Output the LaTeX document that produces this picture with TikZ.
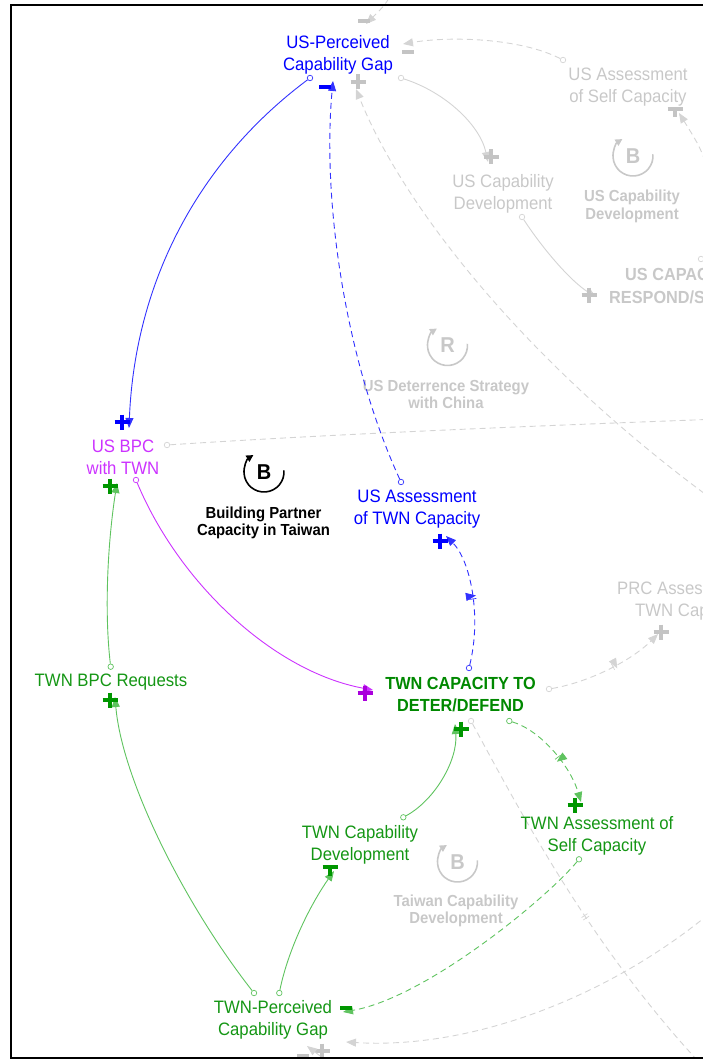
\documentclass[tikz,border=0pt]{standalone}
\usepackage{fontspec}
\setmainfont{Liberation Sans}[FakeStretch=0.93]
\usetikzlibrary{arrows.meta,decorations.markings}

\definecolor{cblue}{RGB}{0,0,255}
\definecolor{cblueline}{RGB}{50,50,255}
\definecolor{cmag}{RGB}{204,51,255}
\definecolor{cmagsign}{RGB}{170,0,220}
\definecolor{cgreen}{RGB}{20,150,20}
\definecolor{cgreenbold}{RGB}{0,136,0}
\definecolor{cgreenline}{RGB}{95,195,95}
\definecolor{cgreensign}{RGB}{0,150,0}
\definecolor{cgraytext}{RGB}{200,200,200}
\definecolor{cgrayline}{RGB}{212,212,212}
\definecolor{cgraysign}{RGB}{196,196,196}

\tikzset{
  varlabel/.style={align=center, inner sep=0pt, font=\fontsize{18}{21.5}\selectfont},
  stocklabel/.style={align=center, inner sep=0pt, font=\bfseries\fontsize{17.5}{22}\selectfont},
  looplabel/.style={align=center, inner sep=0pt, font=\bfseries\fontsize{16}{17.5}\selectfont},
  loopletter/.style={inner sep=0pt, font=\bfseries\fontsize{21.5}{24}\selectfont},
  loopring/.style={line width=1.6pt, -{Triangle[length=7pt,width=7pt]}},
  tail/.style={circle, draw=#1, fill=white, inner sep=0pt, minimum size=5.5pt, line width=0.7pt},
  link/.style={line width=0.9pt, -{Triangle[length=10pt,width=8pt]}},
  plainlink/.style={line width=0.9pt},
  dashedlink/.style={link, dash pattern=on 6pt off 4pt},
  dashedplain/.style={plainlink, dash pattern=on 6pt off 4pt},
  delay/.style={postaction={decorate, decoration={markings,
      mark=at position #1 with {\draw[solid, line width=0.7pt]
        (-1.5,-3.5) -- (-1.5,3.5) (1.5,-3.5) -- (1.5,3.5);}}}},
  signstroke/.style={line width=3.6pt, line cap=butt},
}

% polarity marks: colour, centre
\newcommand\signplus[2]{\draw[signstroke,#1] (#2) ++(-7.5,0) -- ++(15,0) (#2) ++(0,-7.5) -- ++(0,15);}
\newcommand\signtee[2]{\draw[signstroke,#1] (#2) ++(-7.5,0) -- ++(15,0) (#2) -- ++(0,8.5);}
\newcommand\signminus[2]{\draw[signstroke,#1] (#2) ++(-6,0) -- ++(12,0);}

\begin{document}
\begin{tikzpicture}[x=1pt,y=-1pt]
\useasboundingbox (0,0) rectangle (703,1059);
\begin{scope}
\clip (0,0) rectangle (703,1059);

% ---------- faded part of the model ----------
\node[varlabel, text=cgraytext] (usself) at (628,87) {US Assessment\\of Self Capacity};
\node[varlabel, text=cgraytext] (uscapdev) at (503,194) {US Capability\\Development};
\node[stocklabel, text=cgraytext, anchor=base west] (uscapac) at (625,280) {US CAPAC};
\node[stocklabel, text=cgraytext, anchor=base west] (usrespond) at (609,303) {RESPOND/S};
\node[varlabel, text=cgraytext, anchor=base west] (prcassess) at (617,594) {PRC Assess};
\node[varlabel, text=cgraytext, anchor=base west] (prctwn) at (635,616.5) {TWN Cap};

% loop markers
\node[loopletter, text=cgraytext] (loopusB) at (633,156) {B};
\draw[loopring, cgraytext] (loopusB.center) ++(-5:20) arc[start angle=-5, end angle=238, radius=20];
\node[looplabel, text=cgraytext] (loopusBlabel) at (632,206.5) {US Capability\\Development};

\node[loopletter, text=cgraytext] (loopR) at (447.5,345.5) {R};
\draw[loopring, cgraytext] (loopR.center) ++(-5:20) arc[start angle=-5, end angle=238, radius=20];
\node[looplabel, text=cgraytext] (loopRlabel) at (446,394.5) {US Deterrence Strategy\\with China};

\node[loopletter, text=cgraytext] (looptwB) at (457.5,862) {B};
\draw[loopring, cgraytext] (looptwB.center) ++(-5:20) arc[start angle=-5, end angle=238, radius=20];
\node[looplabel, text=cgraytext] (looptwBlabel) at (456,911) {Taiwan Capability\\Development};

% faded connectors
\coordinate (kin) at (394,-10);
\coordinate (kh) at (366,24);
\draw[dashedlink, cgrayline] (kin) .. controls (385,5) .. (kh);
\signminus{cgraysign}{364,21}

\node[tail=cgrayline] (tL) at (563,60) {};
\coordinate (hL) at (403,44);
\draw[dashedlink, cgrayline] (tL) .. controls (520,38) and (450,36) .. (hL);
\signminus{cgraysign}{408,52}

\node[tail=cgrayline] (tM) at (401,78) {};
\coordinate (hM) at (488,162);
\draw[link, cgrayline] (tM) .. controls (445,92) and (480,125) .. (hM);
\signplus{cgraysign}{491,157}

\coordinate (nin) at (720,505);
\coordinate (hN) at (356,89);
\draw[dashedlink, cgrayline] (nin) .. controls (520,360) and (400,200) .. (hN);
\signplus{cgraysign}{358,82}

\node[tail=cgrayline] (tO) at (167,445) {};
\coordinate (oout) at (720,419);
\draw[dashedplain, cgrayline] (tO) .. controls (350,433) and (560,425) .. (oout);

\node[tail=cgrayline] (tM2) at (522,217) {};
\coordinate (hM2) at (596,297);
\draw[link, cgrayline] (tM2) .. controls (545,252) and (572,282) .. (hM2);
\signplus{cgraysign}{589,295}

\coordinate (pin) at (714,190);
\coordinate (hP) at (679,113);
\draw[dashedlink, cgrayline] (pin) .. controls (702,150) .. (hP);
\signtee{cgraysign}{675,109}

\node[tail=cgrayline] (tU) at (701,259) {};

\node[tail=cgrayline] (tQ) at (549,689) {};
\coordinate (hQ) at (658,634);
\draw[dashedlink, cgrayline, delay=0.55] (tQ) .. controls (590,682) and (632,660) .. (hQ);
\signplus{cgraysign}{661,632}

\node[tail=cgrayline] (tR) at (471,721) {};
\coordinate (rout) at (714,1078);
\draw[dashedplain, cgrayline, delay=0.52] (tR) .. controls (530,830) and (600,960) .. (rout);

\coordinate (sin) at (716,908);
\coordinate (hS) at (346,1042);
\draw[dashedlink, cgrayline] (sin) .. controls (620,990) and (480,1050) .. (hS);
\signplus{cgraysign}{322,1051}

\coordinate (bin) at (336,1068);
\coordinate (hB2) at (307,1046);
\draw[dashedlink, cgrayline] (bin) -- (hB2);
\signminus{cgraysign}{303,1056}

% ---------- highlighted loop ----------
\node[varlabel, text=cblue] (usgap) at (338,55) {US-Perceived\\Capability Gap};
\node[varlabel, text=cmag] (usbpc) at (123,457.5) {US BPC\\with TWN};
\node[varlabel, text=cblue] (usassess) at (417,509) {US Assessment\\of TWN Capacity};
\node[stocklabel, text=cgreenbold] (twncap) at (460.5,695) {TWN CAPACITY TO\\DETER/DEFEND};
\node[varlabel, text=cgreen] (twnreq) at (111,682) {TWN BPC Requests};
\node[varlabel, text=cgreen] (twncapdev) at (360,845) {TWN Capability\\Development};
\node[varlabel, text=cgreen] (twnself) at (597,836) {TWN Assessment of\\Self Capacity};
\node[varlabel, text=cgreen] (twngap) at (273,1020) {TWN-Perceived\\Capability Gap};

\node[loopletter, text=black] (loopbpc) at (264,472) {B};
\draw[loopring, black] (loopbpc.center) ++(-5:20) arc[start angle=-5, end angle=238, radius=20];
\node[looplabel, text=black] (loopbpclabel) at (263.5,523) {Building Partner\\Capacity in Taiwan};

% US-Perceived Capability Gap -> US BPC with TWN
\node[tail=cblueline] (tA) at (310,78) {};
\coordinate (hA) at (129,428);
\draw[link, cblueline] (tA) .. controls (200,160) and (135,280) .. (hA);
\signplus{cblue}{122,422}

% US Assessment of TWN Capacity -> US-Perceived Capability Gap
\node[tail=cblueline] (tB) at (401,482) {};
\coordinate (hB) at (333,81);
\draw[dashedlink, cblueline] (tB) .. controls (345,360) and (322,200) .. (hB);
\signminus{cblue}{325,87}

% TWN capacity -> US Assessment of TWN Capacity
\node[tail=cblueline] (tC) at (469,668) {};
\coordinate (hC) at (446,536);
\draw[dashedlink, cblueline, delay=0.5] (tC) .. controls (482,615) and (470,560) .. (hC);
\signplus{cblue}{440,541}

% US BPC with TWN -> TWN capacity
\node[tail=cmag] (tD) at (136,480) {};
\coordinate (hD) at (373,690);
\draw[link, cmag] (tD) .. controls (180,585) and (275,672) .. (hD);
\signplus{cmagsign}{365,693}

% TWN BPC Requests -> US BPC with TWN
\node[tail=cgreenline] (tE) at (110.7,666.7) {};
\coordinate (hE) at (117,483);
\draw[link, cgreenline] (tE) .. controls (104,610) and (108,540) .. (hE);
\signplus{cgreensign}{110,486}

% TWN-Perceived Capability Gap -> TWN BPC Requests
\node[tail=cgreenline] (tF) at (254,993) {};
\coordinate (hF) at (115,697);
\draw[link, cgreenline] (tF) .. controls (185,905) and (122,780) .. (hF);
\signplus{cgreensign}{110,700}

% TWN-Perceived Capability Gap -> TWN Capability Development
\node[tail=cgreenline] (tG) at (279.3,993) {};
\coordinate (hG) at (334,871);
\draw[link, cgreenline] (tG) .. controls (288,950) and (310,905) .. (hG);
\signtee{cgreensign}{330,867}

% TWN Capability Development -> TWN capacity
\node[tail=cgreenline] (tH) at (403.3,817.3) {};
\coordinate (hH) at (455,724);
\draw[link, cgreenline] (tH) .. controls (435,800) and (458,760) .. (hH);
\signplus{cgreensign}{461,729}

% TWN capacity -> TWN Assessment of Self Capacity
\node[tail=cgreenline] (tI) at (509.3,721) {};
\coordinate (hI) at (581,802);
\draw[dashedlink, cgreenline, delay=0.55] (tI) .. controls (540,730) and (570,765) .. (hI);
\signplus{cgreensign}{575,805}

% TWN Assessment of Self Capacity -> TWN-Perceived Capability Gap
\node[tail=cgreenline] (tJ) at (579,859.3) {};
\coordinate (hJ) at (343,1012);
\draw[dashedlink, cgreenline] (tJ) .. controls (545,900) and (425,998) .. (hJ);
\signminus{cgreensign}{346,1008}

\end{scope}

% frame
\draw[line width=2.2pt] (705,5) -- (11,5) -- (11,1058) -- (705,1058);
\end{tikzpicture}
\end{document}
